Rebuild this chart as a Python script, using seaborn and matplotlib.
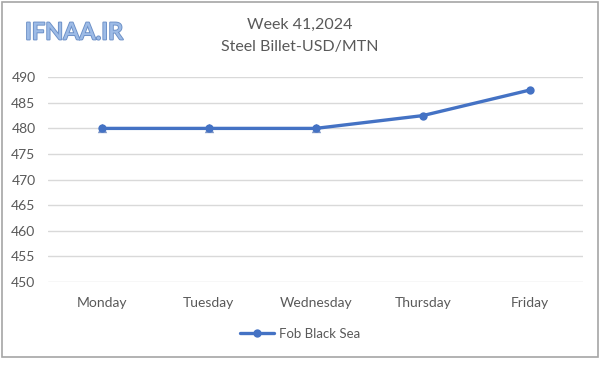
import matplotlib
matplotlib.use("Agg")
import matplotlib.pyplot as plt
import seaborn as sns
import pandas as pd
from matplotlib.patches import Rectangle
import matplotlib.patheffects as pe

days = ["Monday", "Tuesday", "Wednesday", "Thursday", "Friday"]
fob_black_sea = [480, 480, 480, 482.5, 487.5]
hidden_days = ["Monday", "Tuesday", "Wednesday"]
hidden_values = [480, 480, 480]
y_ticks = [450, 455, 460, 465, 470, 475, 480, 485, 490]
title_lines = ["Week 41,2024", "Steel Billet-USD/MTN"]
series_name = "Fob Black Sea"
watermark = "IFNAA.IR"

sns.set_theme(style="white")
plt.rcParams["font.family"] = ["Lato", "DejaVu Sans"]

df = pd.DataFrame({"day": days, "value": fob_black_sea})
dfh = pd.DataFrame({"day": hidden_days, "value": hidden_values})
pos = {d: i for i, d in enumerate(days)}
df["x"] = df["day"].map(pos)
dfh["x"] = dfh["day"].map(pos)

fig = plt.figure(figsize=(6.0, 3.66), dpi=100)
ax = fig.add_axes([0.08, 0.2303, 0.892, 0.5585])

ax.scatter(dfh["x"], dfh["value"], marker="^", s=45, color="#7a93c4", zorder=2, linewidths=0)
sns.lineplot(data=df, x="x", y="value", ax=ax, color="#4472C4", linewidth=2.4,
             marker="o", markersize=6, markeredgewidth=0, label=series_name, zorder=3)

ax.set_xlim(-0.5, 4.5)
ax.set_ylim(450, 490)
ax.set_yticks(y_ticks)
ax.set_xticks(range(len(days)))
ax.set_xticklabels(days)
ax.set_xlabel("")
ax.set_ylabel("")
ax.grid(axis="y", color="#d9d9d9", linewidth=1)
ax.grid(axis="x", visible=False)
for s in ax.spines.values():
    s.set_visible(False)
ax.tick_params(axis="both", length=0, labelsize=10, colors="#595959")
ax.tick_params(axis="x", pad=11)
ax.tick_params(axis="y", pad=9)

leg = ax.legend(loc="center", bbox_to_anchor=(0.5, 1 - 334 / 366), bbox_transform=fig.transFigure,
                frameon=False, fontsize=9.5, handlelength=2.6, handletextpad=0.4)
for t in leg.get_texts():
    t.set_color("#595959")

fig.text(0.5, 1 - 25 / 366, title_lines[0], ha="center", va="center", fontsize=11.5, color="#595959")
fig.text(0.5, 1 - 47 / 366, title_lines[1], ha="center", va="center", fontsize=11.5, color="#595959")

wm = fig.text(25 / 600, 1 - 32 / 366, watermark, ha="left", va="center", fontsize=17,
              color="#9dbbe6", fontweight="semibold")
wm.set_path_effects([pe.withStroke(linewidth=1.3, foreground="#6b8fc6")])

fig.patches.append(Rectangle((2 / 600, 1 - 357 / 366), 596 / 600, 355 / 366,
                             transform=fig.transFigure, fill=False, edgecolor="#a6a6a6", linewidth=1.2))

fig.savefig("out.png", dpi=100)
